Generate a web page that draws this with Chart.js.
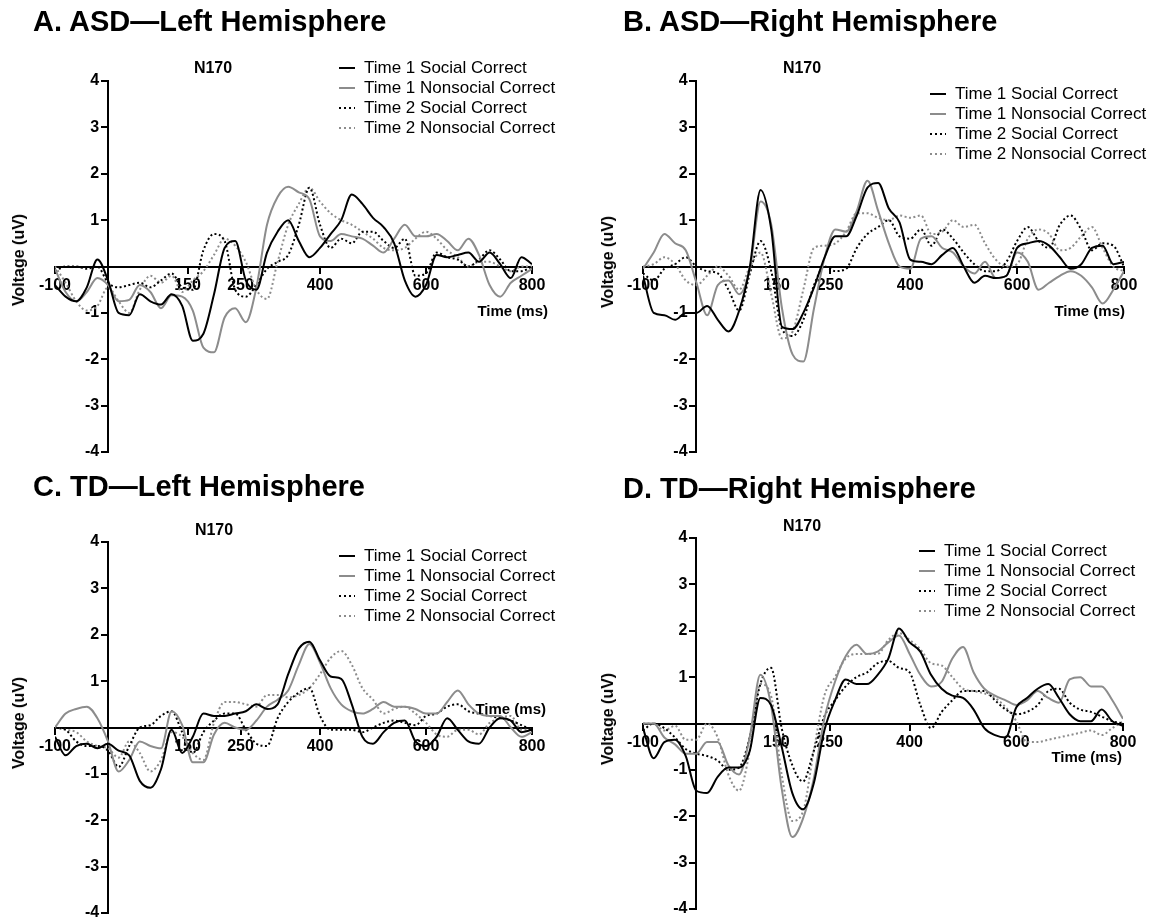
<!DOCTYPE html>
<html>
<head>
<meta charset="utf-8">
<script src="https://cdn.jsdelivr.net/npm/chart.js@4.4.1/dist/chart.umd.min.js"></script>
<style>
  html, body { margin: 0; padding: 0; background: #fff; }
  body { width: 1156px; height: 918px; position: relative; overflow: hidden;
         font-family: "Liberation Sans", Arial, Helvetica, sans-serif; color: #000; }
  canvas { position: absolute; }
  .abs { position: absolute; white-space: nowrap; }
  .panel-title { font-size: 29px; font-weight: bold; line-height: 29px; }
  .n170 { font-size: 16px; font-weight: bold; line-height: 16px; transform: translateX(-50%); }
  .ylab { font-size: 16px; font-weight: bold; line-height: 16px; transform: translate(-50%, -50%) rotate(-90deg); }
  .xlab { font-size: 15px; font-weight: bold; line-height: 15px; }
  .legend { font-size: 17px; line-height: 20px; }
  .legend .row { display: flex; align-items: center; height: 20px; }
  .legend .swatch { width: 16px; height: 2px; margin-right: 9px; }
</style>
</head>
<body>
<script>
// time axis (ms) shared by every series
const times = [-100, -80, -60, -40, -20, 0, 20, 40, 60, 80, 100, 120, 140, 160, 180, 200, 220, 240, 260, 280,
  300, 320, 340, 360, 380, 400, 420, 440, 460, 480, 500, 520, 540, 560, 580, 600, 620, 640, 660, 680,
  700, 720, 740, 760, 780, 800];
const xTicks = [-100, 150, 250, 400, 600, 800];

const seriesNames = ["Time 1 Social Correct", "Time 1 Nonsocial Correct", "Time 2 Social Correct", "Time 2 Nonsocial Correct"];

// A. ASD - left hemisphere (uV)
const asdLeftT1Social = [-0.4, -0.65, -0.75, -0.45, 0.15, -0.3, -1.0, -1.05, -0.6, -0.75, -0.82, -0.6, -0.85, -1.6, -1.45, -0.6, 0.4, 0.55, -0.3, -0.5,
  0.3, 0.75, 1.0, 0.55, 0.2, 0.4, 0.7, 1.0, 1.55, 1.35, 1.05, 0.85, 0.5, -0.3, -0.65, -0.4, 0.25, 0.2, 0.25, 0.3,
  0.1, 0.3, 0.05, -0.25, 0.2, 0.05];
const asdLeftT1Nonsocial = [-0.05, -0.55, -0.75, -0.55, -0.25, -0.4, -0.75, -0.72, -0.4, -0.55, -0.9, -0.62, -0.65, -0.95, -1.75, -1.85, -1.1, -0.9, -1.2, -0.45,
  0.9, 1.5, 1.72, 1.6, 1.45, 0.65, 0.55, 0.7, 0.65, 0.6, 0.45, 0.3, 0.6, 0.9, 0.65, 0.65, 0.7, 0.55, 0.35, 0.6,
  0.25, -0.4, -0.65, -0.35, -0.2, -0.05];
const asdLeftT2Social = [-0.1, 0.0, 0.0, -0.05, 0.0, -0.35, -0.45, -0.4, -0.35, -0.45, -0.3, -0.15, -0.45, -0.5, 0.35, 0.7, 0.55, -0.5, -0.65, -0.4,
  -0.05, 0.1, 0.25, 0.9, 1.7, 0.9, 0.4, 0.6, 0.5, 0.75, 0.75, 0.55, 0.4, 0.6, -0.2, -0.15, 0.3, 0.2, 0.15, 0.0,
  0.15, 0.35, 0.15, -0.1, -0.1, 0.0];
const asdLeftT2Nonsocial = [0.0, -0.35, -0.75, -0.95, -0.85, -0.45, -0.75, -1.0, -0.5, -0.2, -0.35, -0.2, -0.55, -0.3, -0.1, 0.25, 0.6, 0.45, 0.1, -0.5,
  -0.7, 0.1, 0.9, 1.35, 1.7, 1.4, 1.15, 1.0, 0.9, 0.75, 0.6, 0.4, 0.35, 0.4, 0.6, 0.75, 0.6, 0.35, 0.2, 0.0,
  0.1, 0.1, 0.0, -0.1, 0.0, 0.0];

// B. ASD - right hemisphere
const asdRightT1Social = [-0.2, -1.0, -1.05, -1.15, -1.0, -1.0, -0.85, -1.15, -1.4, -0.95, 0.0, 1.65, 0.8, -1.3, -1.35, -1.0, -0.45, 0.2, 0.65, 0.65,
  1.1, 1.7, 1.8, 1.25, 0.95, 0.15, 0.1, 0.05, 0.25, 0.4, 0.0, -0.35, -0.2, -0.25, -0.2, 0.4, 0.5, 0.55, 0.45, 0.2,
  -0.05, 0.05, 0.4, 0.45, 0.05, 0.1];
const asdRightT1Nonsocial = [-0.05, 0.3, 0.7, 0.5, 0.35, -0.35, -1.05, -0.4, -0.3, -0.6, -0.05, 1.4, 0.9, -0.9, -1.9, -2.05, -0.9, 0.2, 0.8, 0.75,
  1.2, 1.85, 1.2, 0.5, 0.0, -0.05, 0.6, 0.65, 0.4, 0.3, 0.0, -0.15, 0.1, -0.25, -0.2, 0.3, 0.1, -0.5, -0.35, -0.2,
  -0.1, -0.2, -0.45, -0.8, -0.5, -0.1];
const asdRightT2Social = [-0.15, -0.3, -0.05, 0.05, 0.2, 0.0, -0.1, -0.15, -0.5, -0.95, -0.15, 0.55, -0.1, -1.35, -1.5, -1.15, -0.4, 0.0, -0.1, -0.05,
  0.4, 0.7, 0.85, 1.0, 0.65, 0.6, 0.8, 0.45, 0.8, 0.6, 0.3, 0.05, -0.1, -0.1, 0.1, 0.55, 0.85, 0.55, 0.4, 0.9,
  1.1, 0.8, 0.35, 0.5, 0.45, 0.0];
const asdRightT2Nonsocial = [0.0, 0.05, 0.2, 0.05, -0.3, -0.4, -0.2, 0.0, -0.2, -0.5, 0.0, 0.3, -0.6, -1.55, -1.4, -0.5, 0.4, 0.45, 0.5, 0.75,
  1.15, 1.15, 1.05, 1.0, 1.1, 1.05, 1.1, 0.7, 0.75, 1.0, 0.85, 0.9, 0.5, 0.15, 0.0, 0.05, 0.6, 0.8, 0.7, 0.35,
  0.4, 0.65, 0.85, 0.4, 0.0, -0.1];

// C. TD - left hemisphere
const tdLeftT1Social = [-0.2, -0.6, -0.4, -0.35, -0.45, -0.35, -0.5, -0.6, -1.15, -1.3, -0.9, -0.05, -0.55, -0.2, 0.3, 0.25, 0.25, 0.3, 0.35, 0.5,
  0.4, 0.5, 1.15, 1.7, 1.85, 1.45, 1.1, 1.05, 0.5, -0.2, -0.35, -0.1, 0.1, 0.15, -0.3, -0.4, -0.2, 0.2, -0.05, -0.3,
  -0.35, 0.0, 0.2, 0.15, -0.1, -0.05];
const tdLeftT1Nonsocial = [0.0, 0.3, 0.4, 0.45, 0.2, -0.3, -0.95, -0.7, -0.3, -0.4, -0.45, 0.35, 0.05, -0.75, -0.75, -0.15, 0.1, 0.0, -0.05, 0.15,
  0.45, 0.6, 0.8, 1.35, 1.8, 1.4, 0.85, 0.5, 0.35, 0.3, 0.4, 0.55, 0.45, 0.45, 0.4, 0.3, 0.3, 0.55, 0.8, 0.5,
  0.3, 0.25, 0.25, 0.0, -0.2, -0.1];
const tdLeftT2Social = [0.0, -0.05, -0.3, -0.4, -0.4, -0.5, -0.85, -0.4, 0.0, 0.05, 0.25, 0.35, -0.1, -0.55, -0.1, 0.15, 0.3, 0.3, -0.05, -0.35,
  -0.4, 0.2, 0.55, 0.75, 0.85, 0.25, -0.05, -0.05, -0.05, -0.1, 0.0, 0.1, 0.15, 0.1, 0.05, 0.25, 0.3, 0.45, 0.5, 0.35,
  0.3, 0.25, 0.2, 0.15, 0.05, -0.05];
const tdLeftT2Nonsocial = [0.0, -0.05, -0.1, -0.3, -0.4, -0.45, -0.65, -0.3, -0.55, -0.95, -0.7, -0.1, -0.2, -0.55, -0.7, 0.1, 0.55, 0.55, 0.5, 0.45,
  0.7, 0.7, 0.65, 0.7, 0.85, 1.15, 1.5, 1.65, 1.35, 0.85, 0.6, 0.3, 0.4, 0.45, 0.3, 0.1, -0.15, -0.2, -0.05, -0.05,
  -0.15, 0.1, 0.2, 0.25, -0.05, -0.05];

// D. TD - right hemisphere
const tdRightT1Social = [-0.1, -0.75, -0.4, -0.35, -0.7, -1.45, -1.5, -1.15, -0.95, -0.95, -0.6, 0.55, 0.4, -0.5, -1.5, -1.85, -1.3, -0.15, 0.5, 0.95,
  0.85, 0.85, 1.05, 1.4, 2.05, 1.75, 1.55, 1.05, 0.75, 0.6, 0.55, 0.3, -0.1, -0.25, -0.3, 0.35, 0.55, 0.75, 0.85, 0.55,
  0.2, 0.05, 0.05, 0.3, 0.05, -0.05];
const tdRightT1Nonsocial = [0.0, 0.0, -0.3, -0.45, -0.65, -0.65, -0.4, -0.4, -0.9, -1.1, -0.3, 1.05, 0.4, -1.4, -2.45, -2.05, -1.2, 0.1, 0.9, 1.45,
  1.7, 1.5, 1.55, 1.75, 1.9, 1.5, 1.05, 0.8, 0.9, 1.4, 1.65, 1.1, 0.75, 0.6, 0.5, 0.4, 0.5, 0.7, 0.55, 0.45,
  0.95, 1.0, 0.8, 0.8, 0.5, 0.1];
const tdRightT2Social = [-0.15, 0.0, -0.1, -0.3, -0.55, -0.65, -0.7, -0.8, -1.0, -0.95, -0.3, 0.85, 1.2, -0.1, -0.9, -1.25, -0.6, 0.15, 0.5, 0.8,
  1.0, 1.1, 1.3, 1.35, 1.2, 1.1, 0.4, -0.1, 0.25, 0.5, 0.7, 0.7, 0.7, 0.5, 0.3, 0.2, 0.25, 0.4, 0.7, 0.75,
  0.45, 0.3, 0.25, 0.15, 0.05, 0.0];
const tdRightT2Nonsocial = [0.0, 0.0, -0.15, -0.05, -0.35, -0.35, 0.0, -0.3, -1.1, -1.45, -0.6, 0.85, 0.6, -1.1, -2.1, -1.9, -0.6, 0.6, 1.0, 1.4,
  1.5, 1.5, 1.5, 1.8, 1.95, 1.8, 1.6, 1.3, 1.25, 1.0, 0.75, 0.7, 0.65, 0.55, 0.35, 0.05, -0.4, -0.4, -0.35, -0.3,
  -0.25, -0.2, -0.15, -0.25, -0.1, 0.05];

// line styles per series (same order as seriesNames)
const lineColors = ["#000000", "#8c8c8c", "#000000", "#8c8c8c"];
const lineDotted = [false, false, true, true];

// where each panel sits on the page
const panels = [
  { title: "A. ASD—Left Hemisphere", series: [asdLeftT1Social, asdLeftT1Nonsocial, asdLeftT2Social, asdLeftT2Nonsocial],
    box: [0, 0, 578, 470], pad: { left: 55, right: 46, top: 81, bottom: 18 },
    titleAt: [33, 7], n170At: [213, 60], legendAt: [339, 58], ylabAt: [19, 260], xlabAt: [608, 303] },
  { title: "B. ASD—Right Hemisphere", series: [asdRightT1Social, asdRightT1Nonsocial, asdRightT2Social, asdRightT2Nonsocial],
    box: [580, 0, 576, 470], pad: { left: 63, right: 32, top: 81, bottom: 18 },
    titleAt: [623, 7], n170At: [802, 60], legendAt: [930, 83.5], ylabAt: [608, 262], xlabAt: [31, 303] },
  { title: "C. TD—Left Hemisphere", series: [tdLeftT1Social, tdLeftT1Nonsocial, tdLeftT2Social, tdLeftT2Nonsocial],
    box: [0, 460, 578, 470], pad: { left: 55, right: 46, top: 82, bottom: 17 },
    titleAt: [33, 472], n170At: [214, 522], legendAt: [339, 546], ylabAt: [19, 723], xlabAt: [610, 701] },
  { title: "D. TD—Right Hemisphere", series: [tdRightT1Social, tdRightT1Nonsocial, tdRightT2Social, tdRightT2Nonsocial],
    box: [580, 460, 576, 470], pad: { left: 63, right: 33, top: 78, bottom: 21 },
    titleAt: [623, 474], n170At: [802, 518], legendAt: [919, 541], ylabAt: [608, 719], xlabAt: [34, 749] }
];

Chart.defaults.font.family = '"Liberation Sans", Arial, Helvetica, sans-serif';
Chart.defaults.color = "#000";

function addText(cls, text, left, top) {
  const d = document.createElement("div");
  d.className = "abs " + cls;
  d.textContent = text;
  d.style.left = left + "px";
  d.style.top = top + "px";
  document.body.appendChild(d);
  return d;
}

function addLegend(datasets, left, top) {
  const box = document.createElement("div");
  box.className = "abs legend";
  box.style.left = left + "px";
  box.style.top = top + "px";
  datasets.forEach(ds => {
    const row = document.createElement("div");
    row.className = "row";
    const sw = document.createElement("span");
    sw.className = "swatch";
    if (ds.borderDash.length) {
      sw.style.background = `repeating-linear-gradient(90deg, ${ds.borderColor} 0 2.5px, transparent 2.5px 5px)`;
    } else {
      sw.style.background = ds.borderColor;
    }
    const label = document.createElement("span");
    label.textContent = ds.label;
    row.appendChild(sw);
    row.appendChild(label);
    box.appendChild(row);
  });
  document.body.appendChild(box);
}

function drawPanel(p) {
  const canvas = document.createElement("canvas");
  canvas.width = p.box[2];
  canvas.height = p.box[3];
  canvas.style.left = p.box[0] + "px";
  canvas.style.top = p.box[1] + "px";
  document.body.appendChild(canvas);

  const datasets = p.series.map((vals, i) => ({
    label: seriesNames[i],
    data: times.map((t, k) => ({ x: t, y: vals[k] })),
    borderColor: lineColors[i],
    borderWidth: 2,
    borderDash: lineDotted[i] ? [2, 2.5] : [],
    pointRadius: 0,
    fill: false,
    cubicInterpolationMode: "monotone"
  }));

  new Chart(canvas.getContext("2d"), {
    type: "line",
    data: { datasets },
    options: {
      responsive: false,
      animation: false,
      layout: { padding: p.pad },
      plugins: { legend: { display: false }, tooltip: { enabled: false } },
      scales: {
        x: {
          type: "linear",
          min: -100,
          max: 800,
          position: { y: 0 },
          afterBuildTicks: axis => { axis.ticks = xTicks.map(v => ({ value: v })); },
          grid: { drawOnChartArea: false, drawTicks: true, tickLength: 6, color: "#000", lineWidth: 2 },
          border: { color: "#000", width: 2 },
          ticks: { autoSkip: false, maxRotation: 0, padding: 3, color: "#000",
                   font: { size: 16, weight: "bold" } }
        },
        y: {
          type: "linear",
          min: -4,
          max: 4,
          position: { x: 0 },
          grid: { drawOnChartArea: false, drawTicks: true, tickLength: 6, color: "#000", lineWidth: 2 },
          border: { color: "#000", width: 2 },
          // labels of an axis placed at x = 0 sit flush on the line, so pad them with two spaces
          ticks: { stepSize: 1, color: "#000", font: { size: 16, weight: "bold" },
                   callback: v => (v === 0 ? "" : v + "  ") }
        }
      }
    }
  });

  addText("panel-title", p.title, p.titleAt[0], p.titleAt[1]);
  addText("n170", "N170", p.n170At[0], p.n170At[1]);
  addText("ylab", "Voltage (uV)", p.ylabAt[0], p.ylabAt[1]);
  const xl = addText("xlab", "Time (ms)", 0, p.xlabAt[1]);
  xl.style.left = "auto";
  xl.style.right = p.xlabAt[0] + "px";
  addLegend(datasets, p.legendAt[0], p.legendAt[1]);
}

panels.forEach(drawPanel);
</script>
</body>
</html>
